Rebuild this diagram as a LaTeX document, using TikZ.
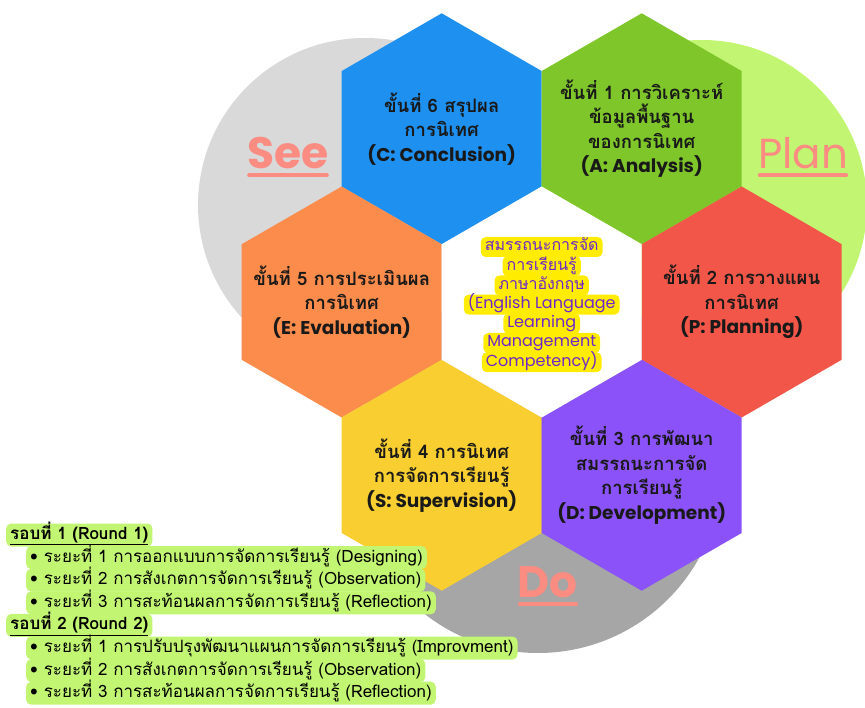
\documentclass[tikz,border=0pt]{standalone}
\usepackage{fontspec}
\setmainfont[Script=Thai]{Loma}
\newfontfamily\pdcafont{Poppins}

\definecolor{hexblue}{RGB}{30,144,240}
\definecolor{hexgreen}{RGB}{126,198,42}
\definecolor{hexred}{RGB}{242,86,72}
\definecolor{hexorange}{RGB}{252,140,76}
\definecolor{hexyellow}{RGB}{248,206,48}
\definecolor{hexpurple}{RGB}{140,82,250}
\definecolor{seegray}{RGB}{217,217,217}
\definecolor{dogray}{RGB}{166,166,166}
\definecolor{planlime}{RGB}{194,246,114}
\definecolor{coreink}{RGB}{110,40,200}
\definecolor{corefill}{RGB}{255,236,0}
\definecolor{pdcaink}{RGB}{250,140,130}

\newcommand{\hexr}{115.5}
\newcommand{\lat}[1]{{\pdcafont #1}}

\tikzset{
  steptext/.style={inner sep=0pt, align=center, text=black!90,
    font=\bfseries\fontsize{18.5}{24.5}\selectfont},
  coreline/.style={fill=corefill, rounded corners=5pt, text=coreink,
    inner xsep=4pt, inner ysep=0pt, text height=13pt, text depth=5pt,
    minimum height=20pt, font=\fontsize{16}{19}\selectfont},
  roundline/.style={anchor=west, fill=planlime, rounded corners=5pt,
    inner xsep=4pt, inner ysep=0pt, text height=14pt, text depth=5pt,
    minimum height=23pt, font=\fontsize{17}{22}\selectfont},
  pdca/.style={text=pdcaink, inner sep=0pt}
}

\begin{document}
\begin{tikzpicture}[x=1pt,y=-1pt]
  \useasboundingbox (0,0) rectangle (865,708);

  % circles behind the hexagons
  \fill[seegray] (365,205) circle (167);
  \fill[planlime] (702,205) circle (165);
  \fill[dogray] (538,469) circle (184);

  % the six steps and the white middle
  \foreach \n/\cx/\cy/\c/\t in {
    conclusion/441.7/128.8/hexblue/{ขั้นที่ 6 สรุปผล\\การนิเทศ\\\lat{(C: Conclusion)}},
    analysis/641.7/128.8/hexgreen/{ขั้นที่ 1 การวิเคราะห์\\ข้อมูลพื้นฐาน\\ของการนิเทศ\\\lat{(A: Analysis)}},
    evaluation/341.7/302/hexorange/{ขั้นที่ 5 การประเมินผล\\การนิเทศ\\\lat{(E: Evaluation)}},
    planning/741.7/302/hexred/{ขั้นที่ 2 การวางแผน\\การนิเทศ\\\lat{(P: Planning)}},
    supervision/441.7/475.2/hexyellow/{ขั้นที่ 4 การนิเทศ\\การจัดการเรียนรู้\\\lat{(S: Supervision)}},
    development/641.7/475.2/hexpurple/{ขั้นที่ 3 การพัฒนา\\สมรรถนะการจัด\\การเรียนรู้\\\lat{(D: Development)}},
    core/541.7/302/white/{}} {
    \fill[\c] (\cx,\cy) +(30:\hexr) -- +(90:\hexr) -- +(150:\hexr)
      -- +(210:\hexr) -- +(270:\hexr) -- +(330:\hexr) -- cycle;
    \node[steptext] (\n) at (\cx,\cy) {\t};
  }

  % competency in the middle
  \foreach \t [count=\i from 0] in {{สมรรถนะการจัด}, {การเรียนรู้}, {ภาษาอังกฤษ},
    {\lat{(English Language}}, {\lat{Learning}}, {\lat{Management}}, {\lat{Competency)}}} {
    \node[coreline] (core-\i) at (541.7,{247+19.2*\i}) {\t};
  }

  % see, plan, do
  \node[pdca, font=\pdcafont\bfseries\fontsize{44}{44}\selectfont] (see) at (288,153) {See};
  \node[pdca, font=\pdcafont\fontsize{42}{42}\selectfont] (plan) at (803,153) {Plan};
  \node[pdca, font=\pdcafont\bfseries\fontsize{44}{44}\selectfont] (do) at (548,582) {Do};
  \foreach \w in {see, plan, do}
    \draw[pdcaink, line width=4pt, line cap=round]
      ([xshift=2pt,yshift=-7pt]\w.base west) -- ([xshift=-2pt,yshift=-7pt]\w.base east);

  % rounds and phases
  \foreach \t/\x [count=\i from 0] in {
    {\textbf{\underline{รอบที่ 1 (Round 1)}}}/6,
    {\textbullet\ ระยะที่ 1 การออกแบบการจัดการเรียนรู้ (Designing)}/26,
    {\textbullet\ ระยะที่ 2 การสังเกตการจัดการเรียนรู้ (Observation)}/26,
    {\textbullet\ ระยะที่ 3 การสะท้อนผลการจัดการเรียนรู้ (Reflection)}/26,
    {\textbf{\underline{รอบที่ 2 (Round 2)}}}/6,
    {\textbullet\ ระยะที่ 1 การปรับปรุงพัฒนาแผนการจัดการเรียนรู้ (Improvment)}/26,
    {\textbullet\ ระยะที่ 2 การสังเกตการจัดการเรียนรู้ (Observation)}/26,
    {\textbullet\ ระยะที่ 3 การสะท้อนผลการจัดการเรียนรู้ (Reflection)}/26} {
    \node[roundline] (round-\i) at (\x,{535+22.6*\i}) {\t};
  }
\end{tikzpicture}
\end{document}
